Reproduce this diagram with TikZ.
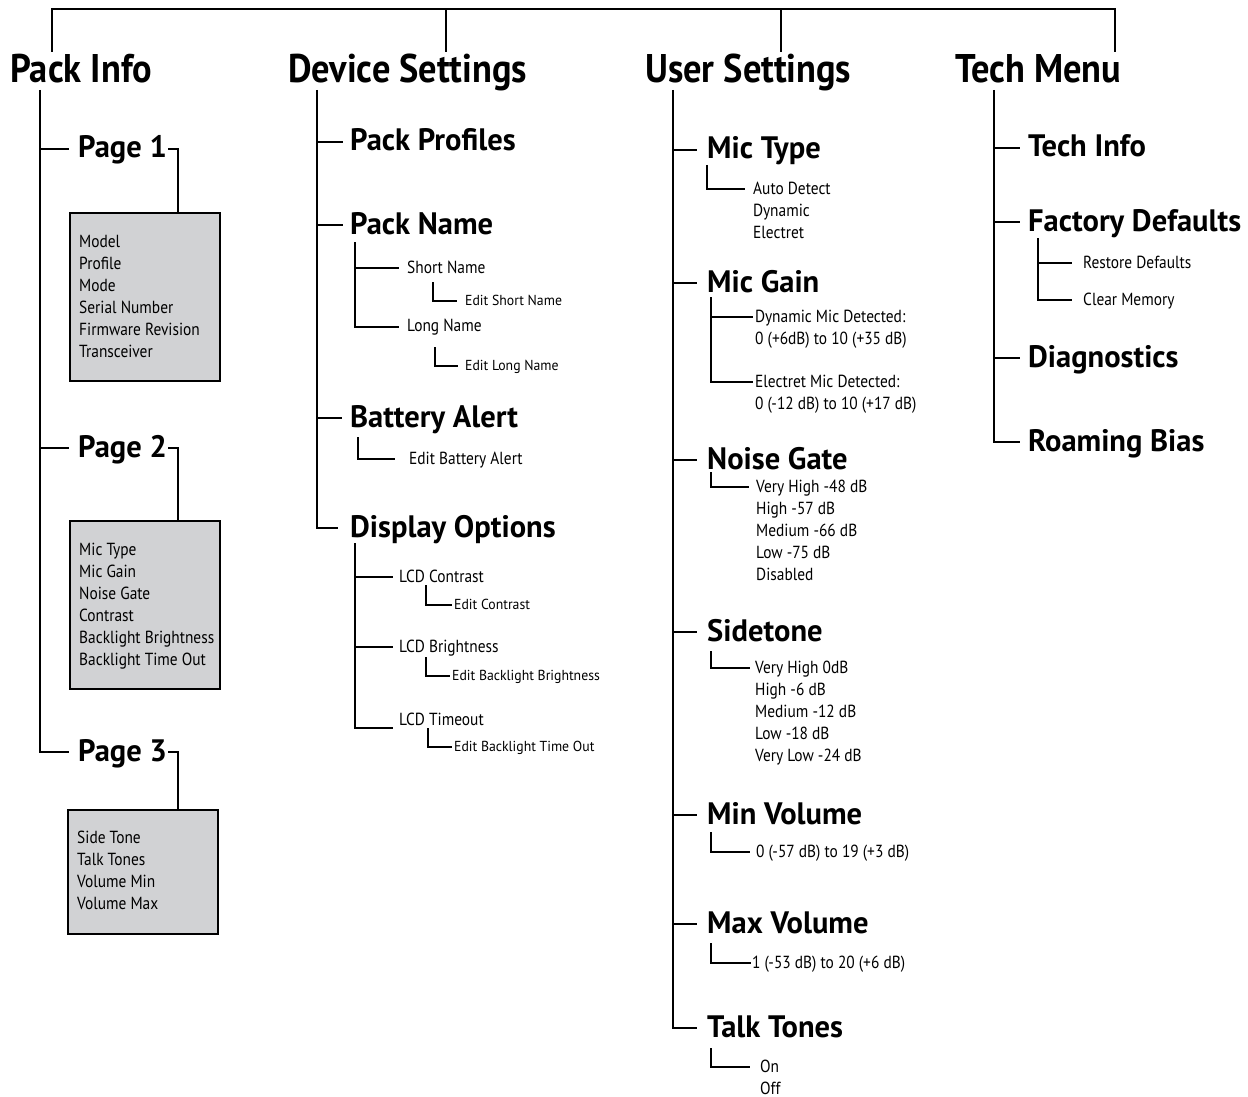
\documentclass[tikz,border=0pt]{standalone}
\usepackage{fontspec}
\setmainfont{PT Sans}
\newfontfamily\hfontA[FakeStretch=0.91]{PT Sans}
\newfontfamily\hfontB[FakeStretch=0.985]{PT Sans}
\newfontfamily\bodyfont[FakeStretch=0.88]{PT Sans}
\newfontfamily\smallfont[FakeStretch=0.95]{PT Sans}
\definecolor{boxgray}{HTML}{D1D2D4}
\tikzset{
  hone/.style={font=\hfontA\fontsize{40}{44}\selectfont\bfseries, anchor=west, inner sep=0pt, text height=28pt, text depth=4pt},
  htwo/.style={font=\hfontB\fontsize{31}{34}\selectfont\bfseries, anchor=west, inner sep=0pt, text height=21pt, text depth=3pt},
  body/.style={font=\bodyfont\fontsize{17.5}{20}\selectfont, anchor=west, inner sep=0pt, text height=12.5pt, text depth=2pt},
  small/.style={font=\smallfont\fontsize{14.5}{17}\selectfont, anchor=west, inner sep=0pt, text height=10pt, text depth=1.5pt},
  pagebox/.style={draw, line width=1.5pt, fill=boxgray, anchor=north west, minimum width=150pt, inner sep=0pt},
  tree/.style={line width=1.6pt},
}
\begin{document}
\begin{tikzpicture}[x=1pt, y=-1pt]
\useasboundingbox (0,0) rectangle (1248,1097);

% ---------------- top bracket
\coordinate (tb) at (0,9);
\coordinate (t1) at (52,52);
\coordinate (t2) at (446,52);
\coordinate (t3) at (781,52);
\coordinate (t4) at (1115,52);
\draw[tree] (t1) -- (t1 |- tb) -- (t4 |- tb) -- (t4);
\draw[tree] (t2) -- (t2 |- tb);
\draw[tree] (t3) -- (t3 |- tb);

% ---------------- headings
\node[hone] (pi) at (10,71) {Pack Info};
\node[hone] (ds) at (288,71) {Device Settings};
\node[hone] (us) at (645,71) {User Settings};
\node[hone] (tm) at (955,71) {Tech Menu};

% ================= Pack Info
\coordinate (pis) at (40,90);
\node[htwo] (p1) at (78,149) {Page 1};
\node[htwo] (p2) at (78,448) {Page 2};
\node[htwo] (p3) at (78,752) {Page 3};
\draw[tree] (pis) |- ([xshift=-9pt]p3.west);
\draw[tree] (p1.west -| pis) -- ([xshift=-9pt]p1.west);
\draw[tree] (p2.west -| pis) -- ([xshift=-9pt]p2.west);

\node[pagebox, minimum height=168pt] (b1) at (69,212) {};
\node[pagebox, minimum height=168pt] (b2) at (69,520) {};
\node[pagebox, minimum height=124pt] (b3) at (67,809) {};
\draw[tree] ([xshift=1pt]p1.east) -| ([xshift=33pt]b1.north);
\draw[tree] ([xshift=1pt]p2.east) -| ([xshift=33pt]b2.north);
\draw[tree] ([xshift=1pt]p3.east) -| ([xshift=35pt]b3.north);

\node[body] (b1a) at (79,242) {Model};
\node[body] (b1b) at (79,264) {Profile};
\node[body] (b1c) at (79,286) {Mode};
\node[body] (b1d) at (79,308) {Serial Number};
\node[body] (b1e) at (79,330) {Firmware Revision};
\node[body] (b1f) at (79,352) {Transceiver};

\node[body] (b2a) at (79,550) {Mic Type};
\node[body] (b2b) at (79,572) {Mic Gain};
\node[body] (b2c) at (79,594) {Noise Gate};
\node[body] (b2d) at (79,616) {Contrast};
\node[body] (b2e) at (79,638) {Backlight Brightness};
\node[body] (b2f) at (79,660) {Backlight Time Out};

\node[body] (b3a) at (77,838) {Side Tone};
\node[body] (b3b) at (77,860) {Talk Tones};
\node[body] (b3c) at (77,882) {Volume Min};
\node[body] (b3d) at (77,904) {Volume Max};

% ================= Device Settings
\coordinate (dss) at (317,90);
\node[htwo] (pp) at (350,142) {Pack Profiles};
\node[htwo] (pn) at (350,225) {Pack Name};
\node[htwo] (ba) at (350,418) {Battery Alert};
\node[htwo] (dopt) at (350,528) {Display Options};
\draw[tree] (dss) |- ([xshift=-12pt]dopt.west);
\draw[tree] (pp.west -| dss) -- ([xshift=-7pt]pp.west);
\draw[tree] (pn.west -| dss) -- ([xshift=-7pt]pn.west);
\draw[tree] (ba.west -| dss) -- ([xshift=-8pt]ba.west);

\coordinate (pns) at (355,242);
\node[body] (sn) at (407,268) {Short Name};
\node[body] (ln) at (407,326) {Long Name};
\draw[tree] (pns) |- ([xshift=-8pt,yshift=-1pt]ln.west);
\draw[tree] (sn.west -| pns) -- ([xshift=-8pt]sn.west);
\coordinate (esnc) at (433,282);
\node[small] (esn) at (465,301) {Edit Short Name};
\draw[tree] (esnc) |- ([xshift=-8pt]esn.west);
\coordinate (elnc) at (435,347);
\node[small] (eln) at (465,366) {Edit Long Name};
\draw[tree] (elnc) |- ([xshift=-7pt]eln.west);

\coordinate (bas) at (358,437);
\node[body] (eba) at (409,459) {Edit Battery Alert};
\draw[tree] (bas) |- ([xshift=-14pt]eba.west);

\coordinate (dos) at (355,543);
\node[body] (lc) at (399,577) {LCD Contrast};
\node[body] (lb) at (399,647) {LCD Brightness};
\node[body] (lt) at (399,720) {LCD Timeout};
\draw[tree] (dos) |- ([xshift=-6pt,yshift=-8pt]lt.west);
\draw[tree] (lc.west -| dos) -- ([xshift=-6pt]lc.west);
\draw[tree] (lb.west -| dos) -- ([xshift=-6pt]lb.west);
\coordinate (ecc) at (426,585);
\node[small] (ec) at (454,605) {Edit Contrast};
\draw[tree] (ecc) |- ([xshift=-2pt]ec.west);
\coordinate (ebbc) at (426,657);
\node[small] (ebb) at (452,676) {Edit Backlight Brightness};
\draw[tree] (ebbc) |- ([xshift=-2pt]ebb.west);
\coordinate (ebtc) at (428,728);
\node[small] (ebt) at (454,747) {Edit Backlight Time Out};
\draw[tree] (ebtc) |- ([xshift=-2pt]ebt.west);

% ================= User Settings
\coordinate (uss) at (673,90);
\node[htwo] (mt) at (707,150) {Mic Type};
\node[htwo] (mg) at (707,283) {Mic Gain};
\node[htwo] (ng) at (707,460) {Noise Gate};
\node[htwo] (st) at (707,632) {Sidetone};
\node[htwo] (minv) at (707,815) {Min Volume};
\node[htwo] (maxv) at (707,924) {Max Volume};
\node[htwo] (tt) at (707,1028) {Talk Tones};
\draw[tree] (uss) |- ([xshift=-10pt]tt.west);
\foreach \n in {mt,mg,ng,st,minv,maxv}{
  \draw[tree] (\n.west -| uss) -- ([xshift=-10pt]\n.west);
}

\coordinate (mts) at (707,165);
\node[body] (mt1) at (753,189) {Auto Detect};
\node[body] (mt2) at (753,211) {Dynamic};
\node[body] (mt3) at (753,233) {Electret};
\draw[tree] (mts) |- ([xshift=-8pt]mt1.west);

\coordinate (mgs) at (711,297);
\node[body] (dm1) at (755,317) {Dynamic Mic Detected:};
\node[body] (dm2) at (755,339) {0 (+6dB) to 10 (+35 dB)};
\node[body] (em1) at (755,382) {Electret Mic Detected:};
\node[body] (em2) at (755,404) {0 (-12 dB) to 10 (+17 dB)};
\draw[tree] (mgs) |- ([xshift=-2pt]em1.west);
\draw[tree] (dm1.west -| mgs) -- ([xshift=-2pt]dm1.west);

\coordinate (ngs) at (711,472);
\node[body] (ng1) at (756,487) {Very High -48 dB};
\node[body] (ng2) at (756,509) {High -57 dB};
\node[body] (ng3) at (756,531) {Medium -66 dB};
\node[body] (ng4) at (756,553) {Low -75 dB};
\node[body] (ng5) at (756,575) {Disabled};
\draw[tree] (ngs) |- ([xshift=-7pt]ng1.west);

\coordinate (sts) at (711,651);
\node[body] (st1) at (755,668) {Very High 0dB};
\node[body] (st2) at (755,690) {High -6 dB};
\node[body] (st3) at (755,712) {Medium -12 dB};
\node[body] (st4) at (755,734) {Low -18 dB};
\node[body] (st5) at (755,756) {Very Low -24 dB};
\draw[tree] (sts) |- ([xshift=-5pt]st1.west);

\coordinate (mvs) at (711,832);
\node[body] (mv1) at (756,852) {0 (-57 dB) to 19 (+3 dB)};
\draw[tree] (mvs) |- ([xshift=-6pt]mv1.west);

\coordinate (xvs) at (711,943);
\node[body] (xv1) at (752,963) {1 (-53 dB) to 20 (+6 dB)};
\draw[tree] (xvs) |- ([xshift=-1pt]xv1.west);

\coordinate (tts) at (711,1048);
\node[body] (on) at (760,1067) {On};
\node[body] (off) at (760,1089) {Off};
\draw[tree] (tts) |- ([xshift=-10pt]on.west);

% ================= Tech Menu
\coordinate (tms) at (994,90);
\node[htwo] (ti) at (1028,148) {Tech Info};
\node[htwo] (fd) at (1028,222) {Factory Defaults};
\node[htwo] (dg) at (1028,358) {Diagnostics};
\node[htwo] (rb) at (1028,442) {Roaming Bias};
\draw[tree] (tms) |- ([xshift=-8pt]rb.west);
\foreach \n in {ti,fd,dg}{
  \draw[tree] (\n.west -| tms) -- ([xshift=-8pt]\n.west);
}
\coordinate (fds) at (1038,238);
\node[body] (rd) at (1083,263) {Restore Defaults};
\node[body] (cm) at (1083,300) {Clear Memory};
\draw[tree] (fds) |- ([xshift=-11pt]cm.west);
\draw[tree] (rd.west -| fds) -- ([xshift=-11pt]rd.west);
\end{tikzpicture}
\end{document}
